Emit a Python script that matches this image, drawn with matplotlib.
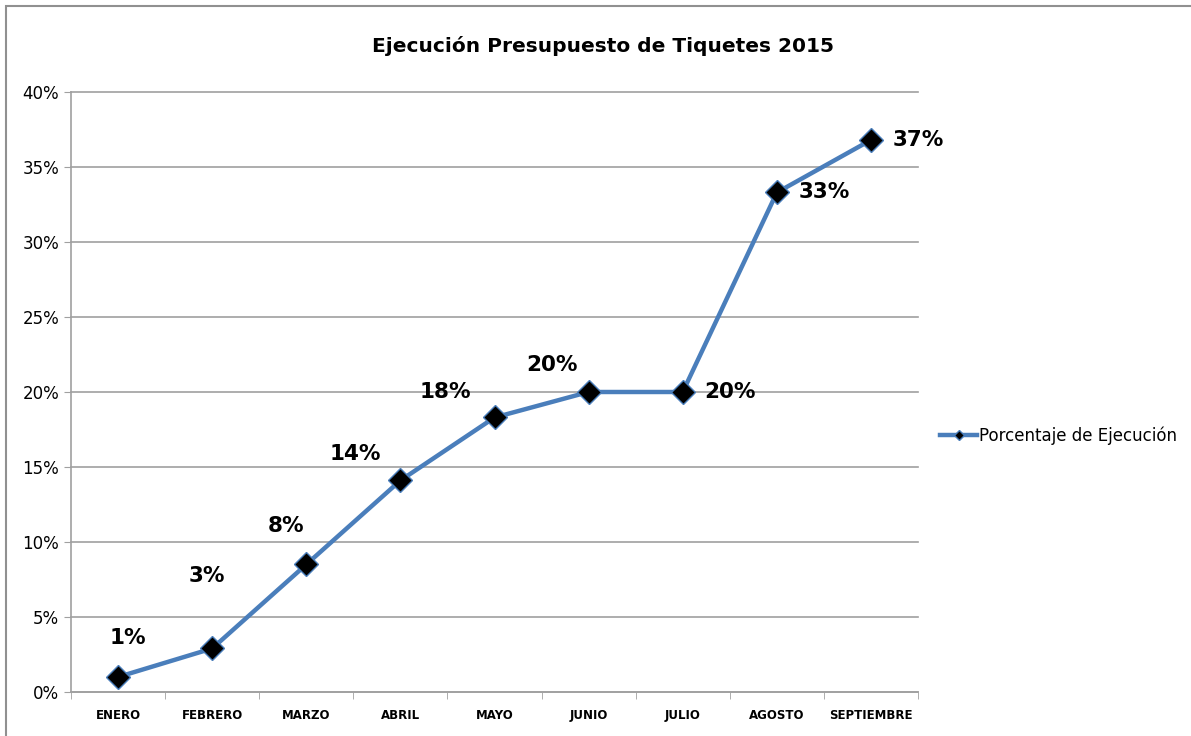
import matplotlib.pyplot as plt
import matplotlib.patches as patches
from matplotlib.ticker import FixedLocator, NullFormatter

meses = ['ENERO', 'FEBRERO', 'MARZO', 'ABRIL', 'MAYO', 'JUNIO',
         'JULIO', 'AGOSTO', 'SEPTIEMBRE']
ejecucion = [1.0, 2.9, 8.5, 14.1, 18.3, 20.0, 20.0, 33.3, 36.8]
# label offsets (pixels) as placed in the original chart
offsets = [(10, 39), (-5, 72), (-20, 38), (-45, 26), (-49, 25), (-37, 27),
           (47, 0), (47, 0), (47, 0)]

fig = plt.figure(figsize=(11.91, 7.36), dpi=100)
ax = fig.add_axes([0.0596, 0.0598, 0.7112, 0.8152])

x = list(range(len(meses)))
ax.plot(x, ejecucion, color='#4a7ebb', linewidth=3.2, marker='D',
        markersize=12, markerfacecolor='black', markeredgecolor='#4a7ebb',
        markeredgewidth=1, label='Porcentaje de Ejecución', zorder=3)

for xi, v, (dx, dy) in zip(x, ejecucion, offsets):
    ax.annotate(f'{round(v):.0f}%', (xi, v), xytext=(dx, dy),
                textcoords='offset pixels', ha='center', va='center',
                fontsize=15.5, fontweight='bold')

ax.set_xlim(-0.5, len(meses) - 0.5)
ax.set_ylim(0, 40)
ax.set_yticks(range(0, 41, 5))
ax.set_yticklabels([f'{t}%' for t in range(0, 41, 5)], fontsize=12)
ax.yaxis.grid(True, color='#a0a0a0', linewidth=1.2)
for gl in ax.get_ygridlines():
    gl.set_clip_on(False)
ax.set_axisbelow(True)

ax.set_xticks(x)
ax.set_xticklabels(meses, fontsize=8.5, fontweight='bold')
ax.tick_params(axis='x', length=0, pad=12)
ax.xaxis.set_minor_locator(FixedLocator([i - 0.5 for i in range(len(meses) + 1)]))
ax.xaxis.set_minor_formatter(NullFormatter())
ax.tick_params(axis='x', which='minor', length=5, color='#a0a0a0')
ax.tick_params(axis='y', length=5, color='#a0a0a0')

for s in ['top', 'right']:
    ax.spines[s].set_visible(False)
for s in ['left', 'bottom']:
    ax.spines[s].set_color('#a0a0a0')
    ax.spines[s].set_linewidth(1.2)

fig.text(0.506, 0.938, 'Ejecución Presupuesto de Tiquetes 2015',
         ha='center', va='center', fontsize=14.5, fontweight='bold')

ax.legend(loc='center left', bbox_to_anchor=(0.777, 0.408),
          bbox_transform=fig.transFigure, frameon=False, fontsize=12,
          handlelength=2.2, handletextpad=0.1, markerscale=0.4)

fig.patches.append(patches.Rectangle((0.005, -0.01), 1.2, 1.002,
                                     transform=fig.transFigure, fill=False,
                                     edgecolor='#909090', linewidth=1.5))

fig.savefig('out.png', dpi=100)
